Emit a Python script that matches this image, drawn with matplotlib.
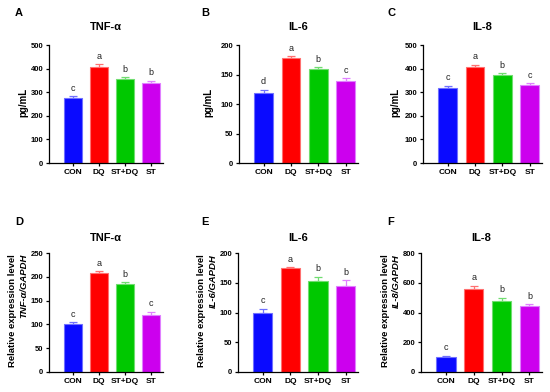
import matplotlib
matplotlib.use("Agg")
import matplotlib.pyplot as plt
import numpy as np

plt.rcParams["font.family"] = ["Liberation Sans", "DejaVu Sans"]

groups = ["CON", "DQ", "ST+DQ", "ST"]
bar_colors = ["#0a0aff", "#ff0000", "#00c800", "#cc00ee"]
edge_colors = ["#7070ff", "#ff7070", "#70dd70", "#e080ff"]

# ELISA (pg/mL)
tnf_elisa = [275, 408, 358, 340]
tnf_elisa_err = [8, 10, 5, 8]
tnf_elisa_sig = ["c", "a", "b", "b"]

il6_elisa = [119, 178, 159, 139]
il6_elisa_err = [5, 3, 3, 5]
il6_elisa_sig = ["d", "a", "b", "c"]

il8_elisa = [317, 407, 371, 332]
il8_elisa_err = [10, 10, 10, 7]
il8_elisa_sig = ["c", "a", "b", "c"]

# relative mRNA expression
tnf_mrna = [100, 207, 184, 119]
tnf_mrna_err = [5, 5, 5, 8]
tnf_mrna_sig = ["c", "a", "b", "c"]

il6_mrna = [100, 174, 153, 145]
il6_mrna_err = [6, 2, 7, 9]
il6_mrna_sig = ["c", "a", "b", "b"]

il8_mrna = [100, 555, 480, 445]
il8_mrna_err = [8, 25, 20, 12]
il8_mrna_sig = ["c", "a", "b", "b"]

W, H = 550, 392
fig = plt.figure(figsize=(5.5, 3.92), dpi=100)


def px_axes(left, right, top, bottom):
    return fig.add_axes([left / W, 1 - bottom / H, (right - left) / W, (bottom - top) / H])


def draw_panel(ax, vals, errs, sig, ymax, ystep, title, pad):
    x = np.arange(len(groups))
    ax.bar(x, vals, width=0.69, color=bar_colors, edgecolor=edge_colors, linewidth=0.8, zorder=2)
    for i in x:
        ax.errorbar(i, vals[i], yerr=[[0], [errs[i]]], color=edge_colors[i],
                    capsize=3.2, elinewidth=0.9, capthick=0.9, zorder=1)
        ax.annotate(sig[i], (i, vals[i] + errs[i]), xytext=(0, 2.5), textcoords="offset points",
                    ha="center", va="bottom", fontsize=6.5, color="#222222")
    ax.set_xlim(-0.9, 3.45)
    ax.set_ylim(0, ymax)
    ax.set_yticks(np.arange(0, ymax + 1, ystep))
    ax.set_xticks(x)
    ax.set_xticklabels(groups)
    for s in ["top", "right"]:
        ax.spines[s].set_visible(False)
    for s in ["left", "bottom"]:
        ax.spines[s].set_linewidth(0.9)
    ax.tick_params(axis="both", width=0.9, length=2.5, pad=1.5)
    ax.tick_params(axis="x", labelsize=6)
    ax.tick_params(axis="y", labelsize=5.5)
    for lab in ax.get_xticklabels() + ax.get_yticklabels():
        lab.set_fontweight("bold")
    ax.set_title(title, fontsize=8, fontweight="bold", pad=pad)


# top row: ELISA
top_row = [
    ("A", 15, 49, 163, tnf_elisa, tnf_elisa_err, tnf_elisa_sig, 500, 100, "TNF-α", 23),
    ("B", 201, 239, 358, il6_elisa, il6_elisa_err, il6_elisa_sig, 200, 50, "IL-6", 208),
    ("C", 387, 423, 542, il8_elisa, il8_elisa_err, il8_elisa_sig, 500, 100, "IL-8", 395),
]
for letter, lx, l, r, vals, errs, sig, ymax, ystep, title, ylx in top_row:
    ax = px_axes(l, r, 45, 163)
    draw_panel(ax, vals, errs, sig, ymax, ystep, title, 11)
    fig.text(ylx / W, 1 - 102 / H, "pg/mL", rotation=90, ha="center", va="center",
             fontsize=7, fontweight="bold")
    fig.text(lx / W, 1 - 13.5 / H, letter, fontsize=8, fontweight="bold",
             ha="left", va="center")

# bottom row: relative expression
bottom_row = [
    ("D", 15, 49, 163, tnf_mrna, tnf_mrna_err, tnf_mrna_sig, 250, 50, "TNF-α", "TNF-α/GAPDH"),
    ("E", 201, 238, 358, il6_mrna, il6_mrna_err, il6_mrna_sig, 200, 50, "IL-6", "IL-6/GAPDH"),
    ("F", 387, 421, 542, il8_mrna, il8_mrna_err, il8_mrna_sig, 800, 200, "IL-8", "IL-8/GAPDH"),
]
for letter, lx, l, r, vals, errs, sig, ymax, ystep, title, gene in bottom_row:
    ax = px_axes(l, r, 253, 372)
    draw_panel(ax, vals, errs, sig, ymax, ystep, title, 8.5)
    fig.text((l - 36) / W, 1 - 254 / H, "Relative expression level", rotation=90,
             ha="center", va="top", fontsize=6.8, fontweight="bold")
    fig.text((l - 25) / W, 1 - 254 / H, gene, rotation=90, ha="center", va="top",
             fontsize=6.8, fontweight="bold", style="italic")
    fig.text(lx / W, 1 - 222 / H, letter, fontsize=8, fontweight="bold",
             ha="left", va="center")

fig.savefig("out.png", dpi=100)
